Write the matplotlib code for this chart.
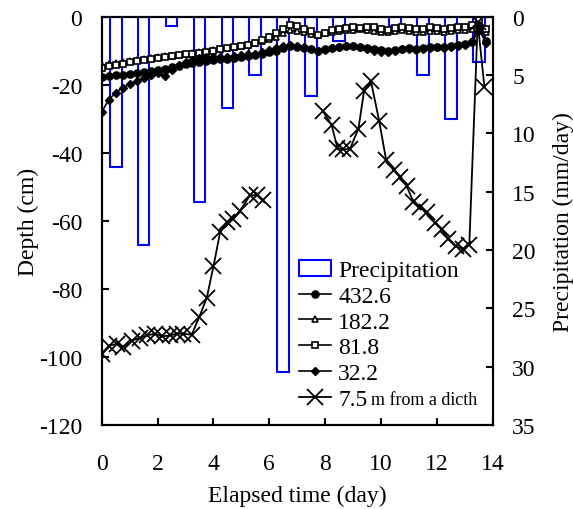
import numpy as np
import matplotlib
matplotlib.use("Agg")
import matplotlib.pyplot as plt
from matplotlib.transforms import IdentityTransform

plt.rcParams["font.family"] = ["Liberation Serif", "DejaVu Serif"]
plt.rcParams["font.size"] = 17
plt.rcParams["axes.unicode_minus"] = False

# Niederschlag (mm/day), Tagesmitte
rain_day = [0.5, 1.5, 2.5, 3.5, 4.5, 5.5, 6.5, 7.5, 8.5, 10.5, 11.5, 12.5, 13.5]
rain_mm = [12.9, 19.6, 0.8, 15.9, 7.8, 5.0, 30.5, 6.8, 2.1, 0.8, 5.0, 8.8, 3.9]

# Grundwasserstand (cm), alle 0.25 Tage
t = np.arange(56) * 0.25
d_432 = [-17.6, -17.4, -17.2, -17.0, -16.8, -16.5, -16.2, -15.9, -15.6, -15.2,
         -14.8, -14.4, -14.0, -13.6, -13.2, -12.9, -12.7, -12.5, -12.3, -12.1,
         -11.9, -11.6, -11.3, -10.9, -10.4, -9.9, -9.3, -8.7, -8.9, -9.3,
         -9.6, -9.9, -9.5, -9.1, -8.8, -8.6, -8.5, -8.8, -9.2, -9.6,
         -9.8, -9.9, -9.7, -9.4, -9.2, -9.4, -9.3, -9.0, -8.8, -8.9,
         -8.6, -8.3, -8.1, -7.5, -4.0, -7.2]
d_182 = [-14.3, -14.0, -13.6, -13.3, -13.0, -12.7, -12.4, -12.1, -11.9, -11.6,
         -11.4, -11.1, -10.9, -10.6, -10.3, -10.1, -9.8, -9.5, -9.2, -8.9,
         -8.6, -8.2, -7.8, -7.2, -6.5, -5.8, -4.8, -4.0, -4.3, -4.6,
         -5.0, -5.2, -4.8, -4.5, -4.2, -4.0, -3.8, -3.7, -3.9, -4.2,
         -4.4, -4.5, -4.2, -4.0, -4.3, -4.6, -4.4, -4.1, -4.3, -4.5,
         -4.2, -4.0, -3.8, -3.5, -2.0, -4.5]
d_818 = [-15.0, -14.6, -14.2, -13.8, -13.4, -13.0, -12.7, -12.4, -12.1, -11.8,
         -11.6, -11.3, -11.0, -10.8, -10.5, -10.2, -9.9, -9.6, -9.3, -9.0,
         -8.6, -8.2, -7.6, -6.8, -5.9, -4.8, -3.6, -2.3, -2.8, -3.6,
         -4.3, -5.3, -4.7, -4.0, -3.6, -3.2, -3.0, -3.3, -2.9, -3.1,
         -3.5, -3.8, -3.4, -3.0, -3.3, -3.7, -3.5, -3.1, -3.4, -3.7,
         -3.3, -2.9, -3.0, -2.4, -1.0, -3.5]
d_322 = [-28.0, -24.4, -22.3, -20.8, -19.8, -18.9, -18.0, -17.2, -16.6, -17.4,
         -15.6, -14.2, -13.3, -12.6, -12.2, -11.9, -11.8, -11.9, -11.7, -11.5,
         -11.3, -11.0, -10.8, -10.3, -9.8, -9.2, -8.6, -8.3, -8.6, -9.0,
         -9.4, -10.0, -9.7, -9.2, -9.0, -8.7, -8.6, -9.0, -9.5, -9.9,
         -10.2, -10.3, -10.0, -9.6, -9.5, -9.7, -9.4, -9.2, -9.0, -9.1,
         -8.8, -8.5, -8.2, -7.0, -2.5, -7.8]

# 7.5 m vom Graben (Luecke zwischen den Messreihen)
t_75 = [0.02, 0.26, 0.54, 0.77, 1.07, 1.37, 1.61, 1.91, 2.15, 2.45, 2.69, 2.92,
        3.22, 3.49, 3.76, 4.0, 4.24, 4.47, 4.71, 4.95, 5.31, 5.55, 5.79,
        np.nan,
        7.91, 8.23, 8.44, 8.65, 8.89, 9.19, 9.39, 9.64, 9.93, 10.18, 10.48,
        10.68, 10.92, 11.16, 11.4, 11.64, 11.93, 12.17, 12.41, 12.68, 12.95,
        13.16, 13.46, 13.7]
d_75 = [-99.1, -96.7, -96.2, -97.0, -95.2, -94.4, -93.7, -93.2, -94.0, -93.7,
        -93.2, -93.2, -93.5, -88.3, -82.7, -73.4, -63.3, -60.4, -59.4, -57.0,
        -52.5, -52.4, -54.0,
        np.nan,
        -27.6, -31.8, -38.6, -39.0, -38.8, -32.9, -21.9, -19.0, -30.5, -42.0,
        -44.9, -47.2, -49.8, -54.5, -56.0, -57.5, -60.6, -62.5, -65.3, -67.5,
        -68.2, -67.0, -1.6, -20.6]

fig = plt.figure(figsize=(5.73, 5.10), dpi=100)
ax = fig.add_axes([0.1775, 0.165, 0.6825, 0.80])
ax2 = ax.twinx()

# Balken auf der rechten Achse
bars = ax2.bar(rain_day, rain_mm, width=0.42, facecolor="none",
               edgecolor="#0000ff", linewidth=1.5, label="Precipitation")
ax2.set_ylim(35, 0)
ax2.set_yticks(np.arange(0, 36, 5))
ax2.set_ylabel("Precipitation (mm/day)", labelpad=12)

ax.set_zorder(ax2.get_zorder() + 1)
ax.patch.set_visible(False)

kw = dict(color="black", linewidth=1.2, markeredgecolor="black",
          markeredgewidth=1.2, markersize=5)
l1, = ax.plot(t, d_432, marker="o", markerfacecolor="black", label="432.6", **kw)
l2, = ax.plot(t, d_182, marker="^", markerfacecolor="white", label="182.2", **kw)
l3, = ax.plot(t, d_818, marker="s", markerfacecolor="white", label="81.8", **kw)
l4, = ax.plot(t, d_322, marker="D", markerfacecolor="black", label="32.2",
              color="black", linewidth=1.2, markersize=4)
l5, = ax.plot(t_75, d_75, marker="x", color="black", linewidth=1.3,
              markersize=11, markeredgewidth=1.3, label="7.5")

ax.set_xlim(0, 14)
ax.set_ylim(-120, 0)
ax.set_xticks(np.arange(0, 15, 2))
ax.set_yticks(np.arange(-120, 1, 20))
ax.set_xlabel("Elapsed time (day)", labelpad=8)
ax.set_ylabel("Depth (cm)", labelpad=0)

for a in (ax, ax2):
    for s in a.spines.values():
        s.set_linewidth(1.5)
ax.tick_params(axis="both", direction="in", length=5, width=1.5)
ax.tick_params(axis="x", pad=20)
ax.tick_params(axis="y", pad=14, right=False)
ax2.tick_params(axis="y", direction="in", length=5, width=1.5, pad=14)

leg = ax.legend([bars, l1, l2, l3, l4, l5],
                ["Precipitation", "432.6", "182.2", "81.8", "32.2", "7.5"],
                loc="upper left", bbox_to_anchor=(0.505, 0.405), frameon=False,
                borderaxespad=0, borderpad=0, handlelength=1.35,
                handletextpad=0.3, labelspacing=0.18, fontsize=17)

# kleiner Zusatztext hinter "7.5"
fig.canvas.draw()
bb = leg.get_texts()[-1].get_window_extent()
fig.text(bb.x1 + 4, bb.y0 + 2, "m from a dicth", fontsize=13,
         transform=IdentityTransform(), va="bottom", ha="left")

fig.savefig("out.png", dpi=100)
